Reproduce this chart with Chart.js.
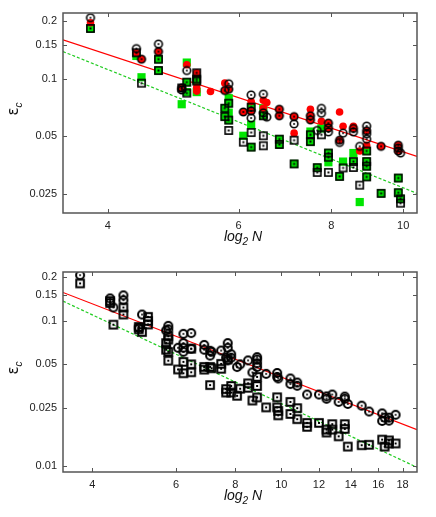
<!DOCTYPE html>
<html>
<head>
<meta charset="utf-8">
<script src="https://cdn.jsdelivr.net/npm/chart.js@4.4.1/dist/chart.umd.min.js"></script>
<style>
  html, body { margin: 0; padding: 0; background: #fff; }
  #wrap { position: relative; width: 436px; height: 517px; }
  canvas { position: absolute; left: 0; }
</style>
</head>
<body>
<div id="wrap">
  <canvas id="topChart" width="436" height="250" style="top:0"></canvas>
  <canvas id="bottomChart" width="436" height="267" style="top:250px"></canvas>
</div>
<script>
// ---- top panel data (x = log2 N, y = eps_c) ----
const topCircleX = [3.79, 4.37, 4.44, 4.68, 4.68, 5.03, 5.03, 5.11, 5.82, 5.75, 5.82, 6.09, 6.24, 6.24, 6.24,
  6.48, 6.48, 6.55, 6.81, 6.81, 7.13, 7.13, 7.50, 7.50, 7.66, 7.76, 7.76, 7.93, 7.93, 7.93, 8.21, 8.21, 8.30,
  8.57, 8.57, 8.74, 8.93, 8.93, 8.93, 8.93, 9.34, 9.85, 9.85, 9.85, 9.92];
const topCircleY = [0.207, 0.143, 0.126, 0.151, 0.138, 0.0893, 0.0872, 0.110, 0.0939, 0.0866, 0.0879, 0.0670, 0.0822, 0.0678, 0.0623,
  0.0829, 0.0663, 0.063, 0.0692, 0.064, 0.0634, 0.0581, 0.064, 0.061, 0.0537, 0.070, 0.066, 0.0586, 0.0553, 0.0528, 0.0478, 0.0465, 0.052,
  0.055, 0.0528, 0.0444, 0.0566, 0.0535, 0.0516, 0.0484, 0.0444, 0.045, 0.0435, 0.042, 0.041];

const topRedX = [3.79, 4.37, 4.44, 4.68, 5.03, 5.11, 5.27, 5.27, 5.27, 5.50, 5.75, 5.75, 5.82, 6.09, 6.24, 6.24,
  6.48, 6.55, 6.48, 6.81, 6.81, 7.13, 7.13, 7.50, 7.50, 7.50, 7.76, 7.93, 7.93, 8.21, 8.21, 8.30, 8.57, 8.57,
  8.74, 8.93, 8.93, 9.34, 9.85, 9.85];
const topRedY = [0.195, 0.136, 0.126, 0.138, 0.0893, 0.118, 0.107, 0.090, 0.086, 0.0856, 0.0946, 0.0866, 0.0879, 0.0670, 0.0760, 0.0678,
  0.077, 0.075, 0.070, 0.0692, 0.064, 0.0634, 0.052, 0.0692, 0.064, 0.061, 0.060, 0.0586, 0.0553, 0.067, 0.0478, 0.0565, 0.0565, 0.055,
  0.042, 0.045, 0.0535, 0.0444, 0.045, 0.042];

const topGreenX = [3.79, 4.37, 4.44, 4.68, 4.68, 5.03, 5.11, 5.11, 5.11, 5.27, 5.27, 5.27, 5.75, 5.75, 5.82, 5.82,
  5.82, 5.82, 6.09, 6.24, 6.24, 6.24, 6.48, 6.48, 6.81, 6.81, 7.13, 7.50, 7.50, 7.50, 7.66, 7.76, 7.93, 7.93,
  7.93, 8.21, 8.30, 8.57, 8.57, 8.74, 8.93, 8.93, 8.93, 8.93, 9.34, 9.85, 9.85, 9.92];
const topGreenY = [0.182, 0.131, 0.1015, 0.126, 0.110, 0.0735, 0.121, 0.0957, 0.085, 0.0993, 0.097, 0.085, 0.0701, 0.0634, 0.0790, 0.0744,
  0.0665, 0.0608, 0.0504, 0.071, 0.0575, 0.0440, 0.070, 0.064, 0.0484, 0.0454, 0.036, 0.053, 0.051, 0.047, 0.0344, 0.055, 0.041, 0.039,
  0.0367, 0.031, 0.037, 0.041, 0.037, 0.0228, 0.042, 0.037, 0.035, 0.0308, 0.0253, 0.0304, 0.0255, 0.0237];

const topSquareX = [3.79, 4.37, 4.44, 4.68, 4.68, 5.03, 5.11, 5.11, 5.27, 5.27, 5.27, 5.75, 5.75, 5.82, 5.82, 5.82,
  6.09, 6.24, 6.24, 6.24, 6.48, 6.48, 6.48, 6.81, 6.81, 7.13, 7.13, 7.50, 7.50, 7.66, 7.66, 7.76, 7.93, 7.93,
  7.93, 8.21, 8.30, 8.57, 8.57, 8.74, 8.93, 8.93, 8.93, 8.93, 9.34, 9.85, 9.85, 9.92, 9.92];
const topSquareY = [0.182, 0.136, 0.0946, 0.126, 0.110, 0.0893, 0.0957, 0.084, 0.107, 0.0993, 0.097, 0.0701, 0.0634, 0.0744, 0.0608, 0.0537,
  0.0467, 0.071, 0.0524, 0.0440, 0.064, 0.0504, 0.0447, 0.0484, 0.0454, 0.0478, 0.036, 0.051, 0.047, 0.0344, 0.0325, 0.051, 0.041, 0.039,
  0.0325, 0.031, 0.0343, 0.037, 0.0345, 0.0279, 0.042, 0.037, 0.035, 0.0308, 0.0253, 0.0304, 0.0255, 0.0237, 0.0225];

const topFitX = [3.48, 10.44];
const topRedFitY = [0.159, 0.0394];
const topGreenFitY = [0.138, 0.0253];

const topXTicks = [4, 6, 8, 10];
const topYTicks = [0.025, 0.05, 0.1, 0.15, 0.2];
const topYLabels = ['0.025', '0.05', '0.1', '0.15', '0.2'];

// ---- bottom panel data ----
const bottomCircleX = [3.77, 4.36, 4.43, 4.65, 4.65, 5.01, 5.09, 5.72, 5.78, 5.78, 6.06, 6.22, 6.22, 6.22, 6.22,
  6.46, 6.46, 6.88, 6.88, 7.08, 7.08, 7.13, 7.47, 7.65, 7.71, 7.71, 7.71, 7.84, 7.84, 8.07, 8.19, 8.51, 8.69,
  8.89, 8.89, 8.89, 8.89, 9.29, 9.80, 9.80, 9.85, 10.45, 10.45, 10.8, 10.8, 11.33, 12.0, 12.45, 12.45, 12.8,
  13.2, 13.6, 13.6, 13.8, 14.76, 15.3, 16.3, 16.3, 16.5, 16.85, 16.85, 17.4];
const bottomCircleY = [0.205, 0.142, 0.123, 0.149, 0.138, 0.089, 0.110, 0.0855, 0.092, 0.087, 0.065, 0.081, 0.070, 0.065, 0.061,
  0.082, 0.064, 0.068, 0.063, 0.062, 0.0574, 0.061, 0.0622, 0.0555, 0.070, 0.065, 0.0532, 0.0587, 0.0555, 0.0479, 0.050, 0.0532, 0.044,
  0.056, 0.054, 0.0508, 0.0479, 0.043, 0.0436, 0.041, 0.040, 0.040, 0.0366, 0.0375, 0.0356, 0.031, 0.031, 0.0301, 0.029, 0.031,
  0.0276, 0.0300, 0.0290, 0.0267, 0.026, 0.0237, 0.023, 0.0204, 0.0215, 0.0215, 0.0205, 0.0225];

const bottomSquareX = [3.77, 4.36, 4.36, 4.43, 4.65, 4.65, 5.01, 5.01, 5.09, 5.24, 5.24, 5.24, 5.72, 5.72, 5.78, 5.78,
  5.78, 5.78, 6.06, 6.22, 6.22, 6.46, 6.46, 6.46, 6.88, 6.88, 7.08, 7.08, 7.13, 7.47, 7.47, 7.65, 7.65, 7.71,
  7.84, 7.84, 8.07, 8.19, 8.51, 8.51, 8.69, 8.89, 8.89, 8.89, 9.29, 9.80, 9.80, 9.85, 9.85, 10.45, 10.45, 10.8,
  10.8, 11.33, 11.33, 12.0, 12.45, 12.45, 12.8, 12.8, 13.2, 13.6, 13.6, 13.8, 14.76, 15.3, 16.3, 16.5, 16.85,
  16.85, 17.4];
const bottomSquareY = [0.180, 0.136, 0.132, 0.0937, 0.123, 0.110, 0.0904, 0.087, 0.0834, 0.106, 0.0993, 0.094, 0.070, 0.063, 0.078, 0.074,
  0.0609, 0.053, 0.0461, 0.052, 0.0434, 0.064, 0.050, 0.0441, 0.048, 0.046, 0.048, 0.036, 0.047, 0.0504, 0.0466, 0.0338, 0.0320, 0.054,
  0.0355, 0.0320, 0.0304, 0.034, 0.037, 0.0345, 0.0282, 0.041, 0.0355, 0.0296, 0.0253, 0.0297, 0.0253, 0.0239, 0.0223, 0.0276, 0.0228, 0.025,
  0.021, 0.0198, 0.0186, 0.0198, 0.0178, 0.0170, 0.0194, 0.0178, 0.0160, 0.0194, 0.018, 0.0136, 0.0139, 0.014, 0.0152, 0.0136, 0.015,
  0.0143, 0.0143];

const bottomFitX = [3.47, 19.3];
const bottomRedFitY = [0.156, 0.0178];
const bottomGreenFitY = [0.136, 0.0098];

const bottomXTicks = [4, 6, 8, 10, 12, 14, 16, 18];
const bottomYTicks = [0.01, 0.025, 0.05, 0.1, 0.15, 0.2];
const bottomYLabels = ['0.01', '0.025', '0.05', '0.1', '0.15', '0.2'];

// zip x and y arrays into points
function pts(xs, ys) {
    return xs.map((x, i) => ({ x: x, y: ys[i] }));
}

// open marker with a small dot in the middle, drawn on an offscreen canvas
function makeMarker(shape, half, lw) {
    const size = Math.ceil(2 * half + lw + 2);
    const c = document.createElement('canvas');
    c.width = size;
    c.height = size;
    const g = c.getContext('2d');
    const m = size / 2;
    g.strokeStyle = '#000';
    g.fillStyle = '#000';
    g.lineWidth = lw;
    if (shape === 'circle') {
        g.beginPath();
        g.arc(m, m, half, 0, Math.PI * 2);
        g.stroke();
        g.beginPath();
        g.arc(m, m, 1, 0, Math.PI * 2);
        g.fill();
    } else {
        g.strokeRect(m - half, m - half, 2 * half, 2 * half);
        g.fillRect(m - 1, m - 1, 2, 2);
    }
    return c;
}

// frame, inward tick marks on all four sides, axis titles with subscripts
const decorPlugin = {
    id: 'decor',
    afterDraw(chart, args, opts) {
        const ctx = chart.ctx;
        const a = chart.chartArea;
        const xs = chart.scales.x, ys = chart.scales.y;
        ctx.save();
        ctx.strokeStyle = '#555';
        ctx.lineWidth = 1.5;
        ctx.strokeRect(a.left, a.top, a.right - a.left, a.bottom - a.top);
        ctx.lineWidth = 1;
        ctx.beginPath();
        opts.xTicks.forEach(v => {
            const px = Math.round(xs.getPixelForValue(v)) + 0.5;
            ctx.moveTo(px, a.bottom); ctx.lineTo(px, a.bottom - 4);
            ctx.moveTo(px, a.top); ctx.lineTo(px, a.top + 4);
        });
        opts.yTicks.forEach(v => {
            const py = Math.round(ys.getPixelForValue(v)) + 0.5;
            ctx.moveTo(a.left, py); ctx.lineTo(a.left + 4, py);
            ctx.moveTo(a.right, py); ctx.lineTo(a.right - 4, py);
        });
        ctx.stroke();

        // x title: log_2 N
        ctx.fillStyle = '#111';
        ctx.textBaseline = 'alphabetic';
        const big = 'italic 14px "Liberation Sans", Arial, sans-serif';
        const small = 'italic 10px "Liberation Sans", Arial, sans-serif';
        ctx.font = big;
        const w1 = ctx.measureText('log').width;
        const w3 = ctx.measureText(' N').width;
        ctx.font = small;
        const w2 = ctx.measureText('2').width;
        let x0 = (a.left + a.right) / 2 + 3 - (w1 + w2 + w3) / 2;
        const yb = opts.xTitleY;
        ctx.font = big;
        ctx.fillText('log', x0, yb);
        ctx.font = small;
        ctx.fillText('2', x0 + w1, yb + 4);
        ctx.font = big;
        ctx.fillText(' N', x0 + w1 + w2, yb);

        // y title: eps_c
        ctx.translate(18, (a.top + a.bottom) / 2 - 4);
        ctx.rotate(-Math.PI / 2);
        const eBig = '15px "DejaVu Sans", sans-serif';
        const eSmall = 'italic 10px "Liberation Sans", Arial, sans-serif';
        ctx.font = eBig;
        const e1 = ctx.measureText('\u03b5').width;
        ctx.font = eSmall;
        const e2 = ctx.measureText('c').width;
        const ex = -(e1 + e2) / 2;
        ctx.font = eBig;
        ctx.fillText('\u03b5', ex, 0);
        ctx.font = eSmall;
        ctx.fillText('c', ex + e1, 4);
        ctx.restore();
    }
};

function makeChart(id, cfg) {
    const datasets = [];
    cfg.series.forEach(s => datasets.push(s));
    return new Chart(document.getElementById(id), {
        type: 'scatter',
        data: { datasets: datasets },
        options: {
            responsive: false,
            animation: false,
            layout: { padding: { top: cfg.padTop, right: 19, left: 0, bottom: 0 } },
            plugins: {
                legend: { display: false },
                tooltip: { enabled: false },
                decor: { xTicks: cfg.xTicks, yTicks: cfg.yTicks, xTitleY: cfg.xTitleY }
            },
            scales: {
                x: {
                    type: 'logarithmic',
                    min: cfg.xMin, max: cfg.xMax,
                    afterBuildTicks: s => { s.ticks = cfg.xTicks.map(v => ({ value: v })); },
                    afterFit: s => { s.height = cfg.xAxisH; },
                    grid: { display: false, drawTicks: false },
                    border: { display: false },
                    ticks: {
                        autoSkip: false, maxRotation: 0, padding: 6,
                        color: '#222',
                        font: { family: '"Liberation Sans", Arial, sans-serif', size: 11 },
                        callback: v => String(v)
                    }
                },
                y: {
                    type: 'logarithmic',
                    min: cfg.yMin, max: cfg.yMax,
                    afterBuildTicks: s => { s.ticks = cfg.yTicks.map(v => ({ value: v })); },
                    afterFit: s => { s.width = 63; },
                    grid: { display: false, drawTicks: false },
                    border: { display: false },
                    ticks: {
                        autoSkip: false, padding: 6,
                        color: '#222',
                        font: { family: '"Liberation Sans", Arial, sans-serif', size: 11 },
                        callback: (v, i) => cfg.yLabels[i]
                    }
                }
            }
        },
        plugins: [decorPlugin]
    });
}

function fitLine(xs, ys, color, dash, order) {
    return {
        type: 'line', data: pts(xs, ys), borderColor: color, borderWidth: 1.2,
        borderDash: dash, pointRadius: 0, fill: false, order: order
    };
}

const ringTop = makeMarker('circle', 3.8, 1.6);
const boxTop = makeMarker('square', 3.6, 1.6);
const ringBottom = makeMarker('circle', 4, 2);
const boxBottom = makeMarker('square', 3.8, 2);

makeChart('topChart', {
    padTop: 13, xAxisH: 37, xTitleY: 241,
    xMin: 3.48, xMax: 10.44, yMin: 0.0200, yMax: 0.219,
    xTicks: topXTicks, yTicks: topYTicks, yLabels: topYLabels,
    series: [
        { data: pts(topCircleX, topCircleY), pointStyle: ringTop, order: 0 },
        { data: pts(topSquareX, topSquareY), pointStyle: boxTop, order: 1 },
        { data: pts(topRedX, topRedY), pointStyle: 'circle', pointRadius: 3.8,
          backgroundColor: '#ff0000', borderWidth: 0, order: 2 },
        { data: pts(topGreenX, topGreenY), pointStyle: 'rect', pointRadius: 5.8,
          backgroundColor: '#00e600', borderWidth: 0, order: 3 },
        fitLine(topFitX, topRedFitY, '#ff0000', [], 4),
        fitLine(topFitX, topGreenFitY, '#22cc22', [3, 2], 5)
    ]
});

makeChart('bottomChart', {
    padTop: 22, xAxisH: 45, xTitleY: 250,
    xMin: 3.47, xMax: 19.3, yMin: 0.0091, yMax: 0.2156,
    xTicks: bottomXTicks, yTicks: bottomYTicks, yLabels: bottomYLabels,
    series: [
        { data: pts(bottomCircleX, bottomCircleY), pointStyle: ringBottom, order: 0 },
        { data: pts(bottomSquareX, bottomSquareY), pointStyle: boxBottom, order: 1 },
        fitLine(bottomFitX, bottomRedFitY, '#ff0000', [], 4),
        fitLine(bottomFitX, bottomGreenFitY, '#22cc22', [3, 2], 5)
    ]
});
</script>
</body>
</html>
